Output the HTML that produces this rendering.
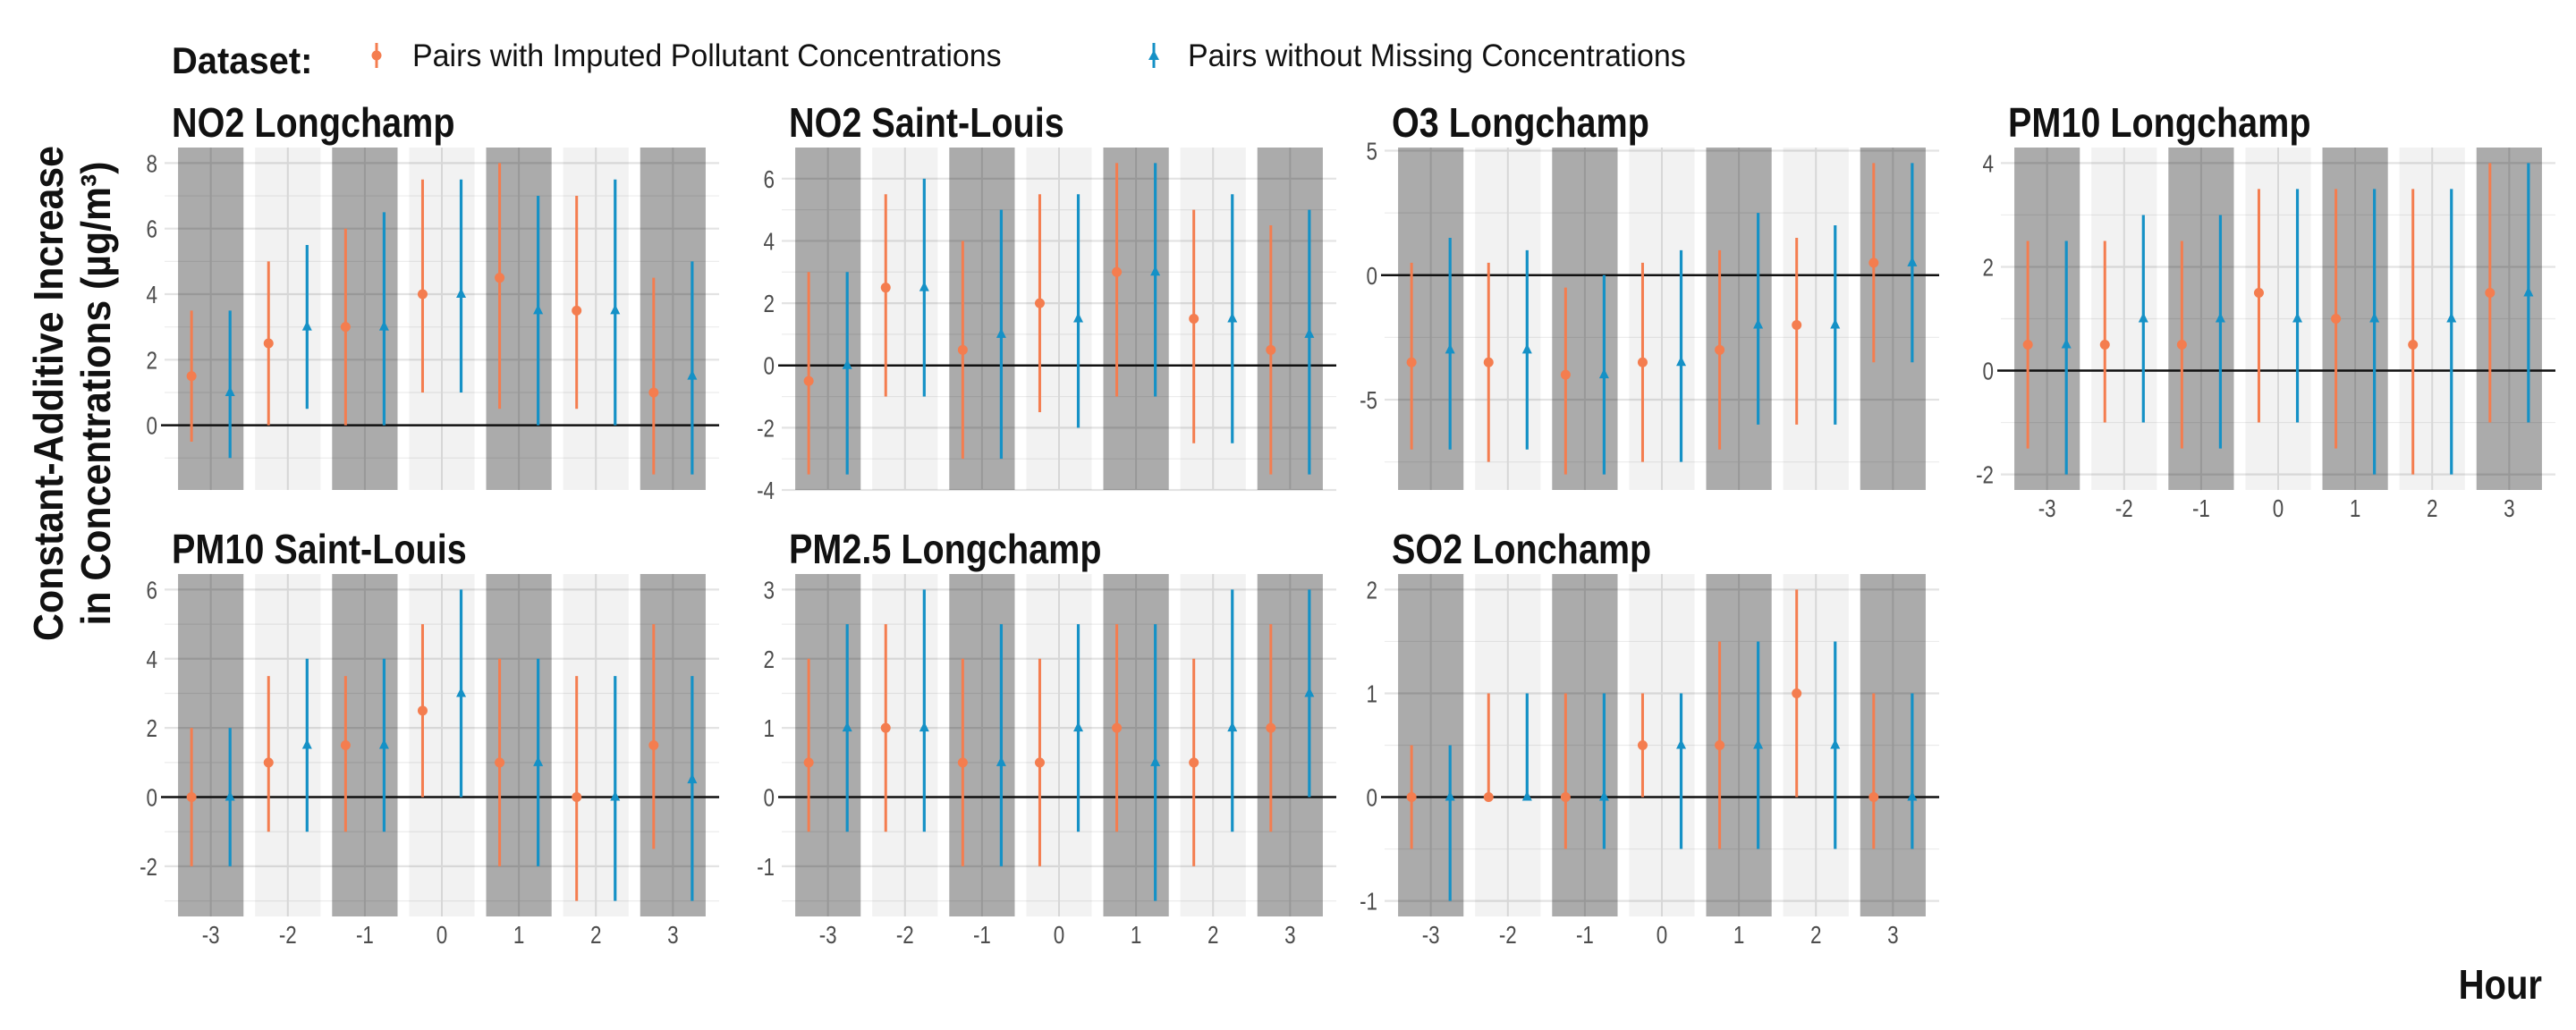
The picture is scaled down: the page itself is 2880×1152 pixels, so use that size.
<!DOCTYPE html>
<html><head><meta charset="utf-8"><style>
html,body{margin:0;padding:0;background:#fff}
svg{display:block}
text{font-family:"Liberation Sans Narrow","Liberation Sans",sans-serif}
</style></head><body>
<svg id="chart" width="2880" height="1152" viewBox="0 0 2880 1152" xmlns="http://www.w3.org/2000/svg">
  <g>
    <text class="cond" data-ratio="0.95" x="192" y="82" font-size="42" font-weight="bold" fill="#111">Dataset:</text>
    <g>
      <line x1="421" y1="48" x2="421" y2="76" stroke="#F47D4F" stroke-width="3"/>
      <circle cx="421" cy="62" r="5.5" fill="#F47D4F"/>
      <text class="cond" data-ratio="0.97" x="461" y="74" font-size="35" fill="#111">Pairs with Imputed Pollutant Concentrations</text>
    </g>
    <g>
      <line x1="1290" y1="48" x2="1290" y2="76" stroke="#1591C6" stroke-width="3"/>
      <path d="M1290,56 L1296,67 L1284,67 Z" fill="#1591C6"/>
      <text class="cond" data-ratio="0.97" x="1328" y="74" font-size="35" fill="#111">Pairs without Missing Concentrations</text>
    </g>
  </g>
  <g transform="translate(0,440) rotate(-90)">
    <text class="cond" data-ratio="0.93" x="0" y="70" text-anchor="middle" font-size="46" font-weight="bold" fill="#111">Constant-Additive Increase</text>
    <text class="cond" data-ratio="0.93" x="0" y="123" text-anchor="middle" font-size="46" font-weight="bold" fill="#111">in Concentrations (µg/m³)</text>
  </g>
  <text class="cond" data-ratio="0.87" x="2842" y="1117" text-anchor="end" font-size="46" font-weight="bold" fill="#111">Hour</text>
  <g id="panels"></g>
</svg>
<script>
const hours = [-3,-2,-1,0,1,2,3];
const panelTitles = ["NO2 Longchamp","NO2 Saint-Louis","O3 Longchamp","PM10 Longchamp","PM10 Saint-Louis","PM2.5 Longchamp","SO2 Lonchamp"];
// Imputed (orange): estimate, low, high per hour
const impEst = [[1.5,2.5,3,4,4.5,3.5,1],[-0.5,2.5,0.5,2,3,1.5,0.5],[-3.5,-3.5,-4,-3.5,-3,-2,0.5],[0.5,0.5,0.5,1.5,1,0.5,1.5],[0,1,1.5,2.5,1,0,1.5],[0.5,1,0.5,0.5,1,0.5,1],[0,0,0,0.5,0.5,1,0]];
const impLo = [[-0.5,0,0,1,0.5,0.5,-1.5],[-3.5,-1,-3,-1.5,-1,-2.5,-3.5],[-7,-7.5,-8,-7.5,-7,-6,-3.5],[-1.5,-1,-1.5,-1,-1.5,-2,-1],[-2,-1,-1,0,-2,-3,-1.5],[-0.5,-0.5,-1,-1,-0.5,-1,-0.5],[-0.5,0,-0.5,0,-0.5,0,-0.5]];
const impHi = [[3.5,5,6,7.5,8,7,4.5],[3,5.5,4,5.5,6.5,5,4.5],[0.5,0.5,-0.5,0.5,1,1.5,4.5],[2.5,2.5,2.5,3.5,3.5,3.5,4],[2,3.5,3.5,5,4,3.5,5],[2,2.5,2,2,2.5,2,2.5],[0.5,1,1,1,1.5,2,1]];
// Complete (blue)
const compEst = [[1,3,3,4,3.5,3.5,1.5],[0,2.5,1,1.5,3,1.5,1],[-3,-3,-4,-3.5,-2,-2,0.5],[0.5,1,1,1,1,1,1.5],[0,1.5,1.5,3,1,0,0.5],[1,1,0.5,1,0.5,1,1.5],[0,0,0,0.5,0.5,0.5,0]];
const compLo = [[-1,0.5,0,1,0,0,-1.5],[-3.5,-1,-3,-2,-1,-2.5,-3.5],[-7,-7,-8,-7.5,-6,-6,-3.5],[-2,-1,-1.5,-1,-2,-2,-1],[-2,-1,-1,0,-2,-3,-3],[-0.5,-0.5,-1,-0.5,-1.5,-0.5,0],[-1,0,-0.5,-0.5,-0.5,-0.5,-0.5]];
const compHi = [[3.5,5.5,6.5,7.5,7,7.5,5],[3,6,5,5.5,6.5,5.5,5],[1.5,1,0,1,2.5,2,4.5],[2.5,3,3,3.5,3.5,3.5,4],[2,4,4,6,4,3.5,3.5],[2.5,3,2.5,2.5,2.5,3,3],[0.5,1,1,1,1.5,1.5,1]];
const tickLabels = [[0,2,4,6,8],[-4,-2,0,2,4,6],[-5,0,5],[-2,0,2,4],[-2,0,2,4,6],[-1,0,1,2,3],[-1,0,1,2]];
const minorTicks = [[-1,1,3,5,7],[-3,-1,1,3,5],[-7.5,-2.5,2.5],[-1,1,3],[-3,-1,1,3,5],[-1.5,-0.5,0.5,1.5,2.5],[-0.5,0.5,1.5]];

const lefts=[184,874,1548,2237,184,874,1548];
const tops=[165,165,165,165,642,642,642];
const PW=620, PH=383;
const ORANGE="#F47D4F", BLUE="#1591C6";
const NS="http://www.w3.org/2000/svg";
const root=document.getElementById('panels');
function mk(tag,attrs,parent){const e=document.createElementNS(NS,tag);for(const k in attrs)e.setAttribute(k,attrs[k]);parent.appendChild(e);return e;}

for(let p=0;p<7;p++){
  const L=lefts[p],T=tops[p];
  const all=impLo[p].concat(impHi[p],compLo[p],compHi[p]);
  const lo=Math.min(...all),hi=Math.max(...all),ex=(hi-lo)*0.05;
  const y0=lo-ex,y1=hi+ex;
  const yS=v=>T+PH-(v-y0)/(y1-y0)*PH;
  const xS=h=>L+(h+3+0.6)/7.2*PW;
  const g=mk('g',{},root);
  
  
  const t=mk('text',{x:L+8,y:T-12,'font-size':46,'font-weight':'bold',fill:'#111','class':'cond','data-ratio':'0.86'},g);
  t.textContent=panelTitles[p];
  
  
  minorTicks[p].forEach(v=>{const l=mk('line',{x1:L,x2:L+PW,y1:yS(v),y2:yS(v),stroke:'#ececec','stroke-width':1.2},g);
    });
  tickLabels[p].forEach(v=>{const l=mk('line',{x1:L,x2:L+PW,y1:yS(v),y2:yS(v),stroke:'#e3e3e3','stroke-width':2.2},g);
    
    const tx=mk('text',{x:L-8,y:yS(v)+10,'text-anchor':'end','font-size':28,fill:'#4d4d4d','class':'cond','data-ratio':'0.8'},g);
    tx.textContent=v;
    });
  hours.forEach(h=>{const l=mk('line',{x1:xS(h),x2:xS(h),y1:T,y2:T+PH,stroke:'#e3e3e3','stroke-width':2},g);
    });
  hours.forEach((h,i)=>{const r=mk('rect',{x:xS(h-0.425),y:T,width:xS(h+0.425)-xS(h-0.425),height:PH,fill:'#000','fill-opacity':(i%2===0?0.33:0.05)},g);
    });
  const z=mk('line',{x1:L-4,x2:L+PW,y1:yS(0),y2:yS(0),stroke:'#111','stroke-width':2.5},g);
  
  hours.forEach((h,i)=>{
    const xo=xS(h-0.25), xb=xS(h+0.25);
    const eo=mk('line',{x1:xo,x2:xo,y1:yS(impLo[p][i]),y2:yS(impHi[p][i]),stroke:ORANGE,'stroke-width':3},g);
    
    const po=mk('circle',{cx:xo,cy:yS(impEst[p][i]),r:5.5,fill:ORANGE},g);
    
    const eb=mk('line',{x1:xb,x2:xb,y1:yS(compLo[p][i]),y2:yS(compHi[p][i]),stroke:BLUE,'stroke-width':3.2},g);
    
    const yy=yS(compEst[p][i]);
    const pb=mk('path',{d:`M${xb},${yy-7} L${xb+5.5},${yy+4} L${xb-5.5},${yy+4} Z`,fill:BLUE},g);
    
  });
  if(p>=3){
    hours.forEach(h=>{const tx=mk('text',{x:xS(h),y:T+PH+30,'text-anchor':'middle','font-size':28,fill:'#4d4d4d','class':'cond','data-ratio':'0.8'},g);
      tx.textContent=h;
      });
  }
}
document.querySelectorAll('text.cond').forEach(t=>{
  const r=parseFloat(t.getAttribute('data-ratio')||'0.8');
  try{const w=t.getComputedTextLength();if(w>0){t.setAttribute('textLength',(w*r).toFixed(1));t.setAttribute('lengthAdjust','spacingAndGlyphs');}}catch(e){}
});
</script>
</body></html>
